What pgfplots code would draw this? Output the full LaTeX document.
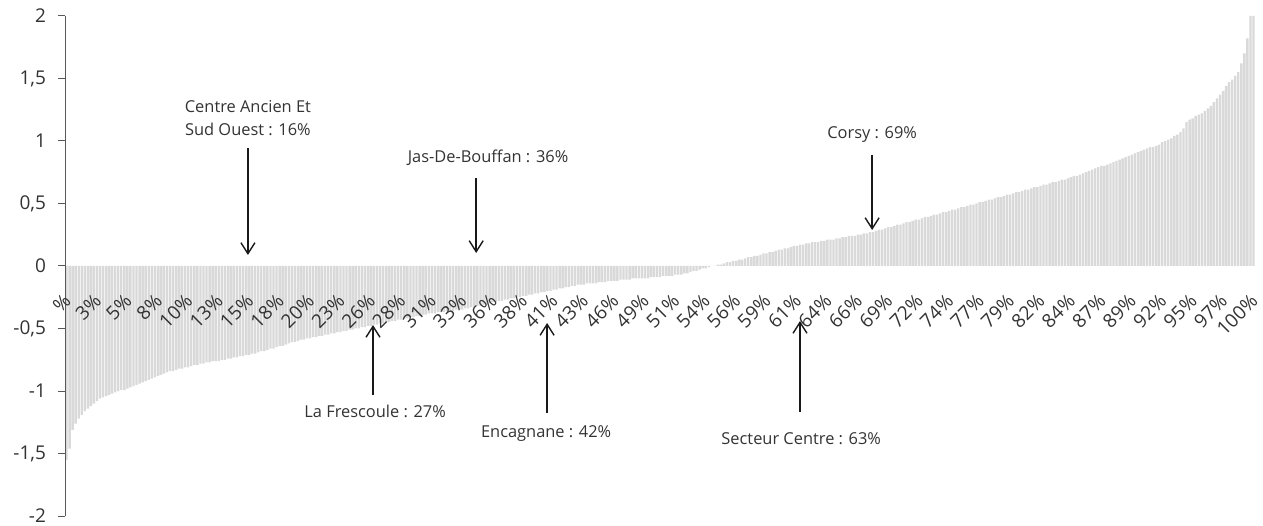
\documentclass[border=0pt]{standalone}
\usepackage{pgfplots}
\pgfplotsset{compat=1.18}
\usepackage{pgfplotstable}
\usepackage{fontspec}
\setmainfont{Open Sans}
\usetikzlibrary{arrows.meta}
\definecolor{bargray}{HTML}{D9D9D9}
\definecolor{axisgray}{HTML}{595959}
\definecolor{txt}{HTML}{333333}
\tikzset{
  ann/.style={font=\fontsize{8.2}{11.5}\selectfont, text=txt, align=center, inner sep=0pt},
  arr/.style={line width=0.7pt, black!90, -{Straight Barb[length=5.5pt,width=7pt]}},
}

\pgfplotstableread[row sep=\\]{
v\\
-1.55\\ -1.46\\ -1.31\\ -1.26\\ -1.22\\ -1.19\\ -1.16\\ -1.14\\ -1.12\\ -1.10\\
-1.08\\ -1.06\\ -1.05\\ -1.04\\ -1.03\\ -1.02\\ -1.01\\ -1.00\\ -0.99\\ -0.99\\
-0.98\\ -0.97\\ -0.96\\ -0.95\\ -0.94\\ -0.93\\ -0.92\\ -0.91\\ -0.90\\ -0.89\\
-0.88\\ -0.87\\ -0.86\\ -0.85\\ -0.84\\ -0.84\\ -0.83\\ -0.82\\ -0.82\\ -0.81\\
-0.81\\ -0.80\\ -0.79\\ -0.79\\ -0.78\\ -0.78\\ -0.77\\ -0.77\\ -0.76\\ -0.76\\
-0.76\\ -0.75\\ -0.75\\ -0.74\\ -0.74\\ -0.73\\ -0.73\\ -0.72\\ -0.72\\ -0.71\\
-0.71\\ -0.70\\ -0.70\\ -0.69\\ -0.68\\ -0.68\\ -0.67\\ -0.66\\ -0.66\\ -0.65\\
-0.64\\ -0.64\\ -0.63\\ -0.62\\ -0.61\\ -0.61\\ -0.60\\ -0.59\\ -0.59\\ -0.58\\
-0.58\\ -0.57\\ -0.57\\ -0.56\\ -0.56\\ -0.55\\ -0.55\\ -0.54\\ -0.54\\ -0.53\\
-0.53\\ -0.52\\ -0.52\\ -0.51\\ -0.51\\ -0.50\\ -0.50\\ -0.49\\ -0.49\\ -0.48\\
-0.48\\ -0.47\\ -0.47\\ -0.46\\ -0.46\\ -0.45\\ -0.45\\ -0.44\\ -0.44\\ -0.43\\
-0.43\\ -0.42\\ -0.42\\ -0.41\\ -0.41\\ -0.40\\ -0.40\\ -0.39\\ -0.39\\ -0.38\\
-0.38\\ -0.38\\ -0.37\\ -0.37\\ -0.37\\ -0.36\\ -0.36\\ -0.36\\ -0.35\\ -0.35\\
-0.35\\ -0.34\\ -0.34\\ -0.33\\ -0.33\\ -0.32\\ -0.32\\ -0.31\\ -0.31\\ -0.30\\
-0.29\\ -0.29\\ -0.28\\ -0.28\\ -0.27\\ -0.27\\ -0.26\\ -0.26\\ -0.25\\ -0.25\\
-0.24\\ -0.24\\ -0.23\\ -0.23\\ -0.22\\ -0.22\\ -0.21\\ -0.21\\ -0.20\\ -0.20\\
-0.19\\ -0.19\\ -0.18\\ -0.18\\ -0.17\\ -0.17\\ -0.16\\ -0.16\\ -0.15\\ -0.15\\
-0.15\\ -0.14\\ -0.14\\ -0.14\\ -0.14\\ -0.13\\ -0.13\\ -0.13\\ -0.12\\ -0.12\\
-0.12\\ -0.12\\ -0.11\\ -0.11\\ -0.11\\ -0.11\\ -0.10\\ -0.10\\ -0.10\\ -0.10\\
-0.10\\ -0.10\\ -0.09\\ -0.09\\ -0.09\\ -0.09\\ -0.08\\ -0.08\\ -0.08\\ -0.08\\
-0.07\\ -0.07\\ -0.07\\ -0.06\\ -0.06\\ -0.05\\ -0.04\\ -0.04\\ -0.03\\ -0.02\\
-0.02\\ -0.01\\ 0.00\\ 0.00\\ 0.01\\ 0.01\\ 0.02\\ 0.03\\ 0.03\\ 0.04\\
0.04\\ 0.05\\ 0.05\\ 0.06\\ 0.07\\ 0.07\\ 0.08\\ 0.08\\ 0.09\\ 0.10\\
0.10\\ 0.11\\ 0.11\\ 0.12\\ 0.13\\ 0.13\\ 0.14\\ 0.14\\ 0.15\\ 0.16\\
0.16\\ 0.17\\ 0.17\\ 0.18\\ 0.18\\ 0.19\\ 0.19\\ 0.19\\ 0.20\\ 0.20\\
0.21\\ 0.21\\ 0.21\\ 0.22\\ 0.22\\ 0.23\\ 0.23\\ 0.24\\ 0.24\\ 0.24\\
0.25\\ 0.25\\ 0.26\\ 0.26\\ 0.27\\ 0.27\\ 0.28\\ 0.29\\ 0.29\\ 0.30\\
0.31\\ 0.31\\ 0.32\\ 0.33\\ 0.33\\ 0.34\\ 0.35\\ 0.35\\ 0.36\\ 0.37\\
0.37\\ 0.38\\ 0.39\\ 0.39\\ 0.40\\ 0.41\\ 0.41\\ 0.42\\ 0.43\\ 0.43\\
0.44\\ 0.45\\ 0.45\\ 0.46\\ 0.47\\ 0.47\\ 0.48\\ 0.49\\ 0.49\\ 0.50\\
0.51\\ 0.51\\ 0.52\\ 0.53\\ 0.53\\ 0.54\\ 0.55\\ 0.55\\ 0.56\\ 0.57\\
0.57\\ 0.58\\ 0.59\\ 0.59\\ 0.60\\ 0.61\\ 0.61\\ 0.62\\ 0.63\\ 0.63\\
0.64\\ 0.65\\ 0.65\\ 0.66\\ 0.67\\ 0.67\\ 0.68\\ 0.69\\ 0.69\\ 0.70\\
0.71\\ 0.72\\ 0.72\\ 0.73\\ 0.74\\ 0.75\\ 0.76\\ 0.77\\ 0.78\\ 0.79\\
0.80\\ 0.80\\ 0.81\\ 0.82\\ 0.83\\ 0.84\\ 0.85\\ 0.86\\ 0.87\\ 0.88\\
0.89\\ 0.90\\ 0.91\\ 0.92\\ 0.93\\ 0.94\\ 0.95\\ 0.95\\ 0.96\\ 0.97\\
0.99\\ 1.00\\ 1.01\\ 1.02\\ 1.04\\ 1.05\\ 1.07\\ 1.10\\ 1.15\\ 1.17\\
1.18\\ 1.20\\ 1.21\\ 1.22\\ 1.24\\ 1.26\\ 1.28\\ 1.31\\ 1.34\\ 1.37\\
1.40\\ 1.44\\ 1.47\\ 1.49\\ 1.52\\ 1.55\\ 1.62\\ 1.70\\ 1.82\\ 2.00\\
2.00\\
}\data

\begin{document}
\begin{tikzpicture}
\useasboundingbox (-32.5pt,-4.5pt) rectangle (599pt,258pt);
\begin{axis}[
  at={(0,0)}, anchor=south west,
  scale only axis, width=595pt, height=250pt,
  xmin=-0.5, xmax=390.5, ymin=-2, ymax=2,
  axis on top,
  axis x line*=middle, axis y line*=left,
  x axis line style={draw=none},
  y axis line style={draw=axisgray, line width=0.5pt},
  hide obscured y ticks=false,
  hide obscured x ticks=false,
  tick align=outside, major tick length=3.5pt,
  ytick={-2,-1.5,-1,-0.5,0,0.5,1,1.5,2},
  yticklabels={-2,{-1,5},-1,{-0,5},0,{0,5},1,{1,5},2},
  ytick style={draw=axisgray, line width=0.5pt},
  yticklabel style={font=\fontsize{9.5}{11}\selectfont, text=txt, xshift=-2.5pt},
  xtick={0,10,...,390},
  xticklabels={\%,3\%,5\%,8\%,10\%,13\%,15\%,18\%,20\%,23\%,26\%,28\%,31\%,33\%,36\%,38\%,41\%,43\%,46\%,49\%,51\%,54\%,56\%,59\%,61\%,64\%,66\%,69\%,72\%,74\%,77\%,79\%,82\%,84\%,87\%,89\%,92\%,95\%,97\%,100\%},
  xtick style={draw=none},
  xticklabel style={rotate=45, anchor=north east, font=\fontsize{9.5}{11}\selectfont, text=txt, xshift=-5pt, yshift=-2pt},
  clip=false,
  ybar, bar width=0.78,
]
\addplot[draw=none, fill=bargray] table[x expr=\coordindex, y=v]{\data};

\draw[arr] (axis cs:59.6,0.944) -- (axis cs:59.6,0.088);
\node[ann] at (axis cs:59.6,1.18) {Centre Ancien Et\\Sud Ouest : 16\%};
\draw[arr] (axis cs:134.6,0.70) -- (axis cs:134.6,0.104);
\node[ann] at (axis cs:138.5,0.864) {Jas-De-Bouffan : 36\%};
\draw[arr] (axis cs:264.7,0.888) -- (axis cs:264.7,0.288);
\node[ann] at (axis cs:264.7,1.05) {Corsy : 69\%};
\draw[arr] (axis cs:100.7,-1.032) -- (axis cs:100.7,-0.472);
\node[ann] at (axis cs:101.4,-1.16) {La Frescoule : 27\%};
\draw[arr] (axis cs:157.9,-1.176) -- (axis cs:157.9,-0.456);
\node[ann] at (axis cs:157.6,-1.344) {Encagnane : 42\%};
\draw[arr] (axis cs:241.0,-1.168) -- (axis cs:241.0,-0.44);
\node[ann] at (axis cs:241.4,-1.384) {Secteur Centre : 63\%};
\end{axis}
\end{tikzpicture}
\end{document}
